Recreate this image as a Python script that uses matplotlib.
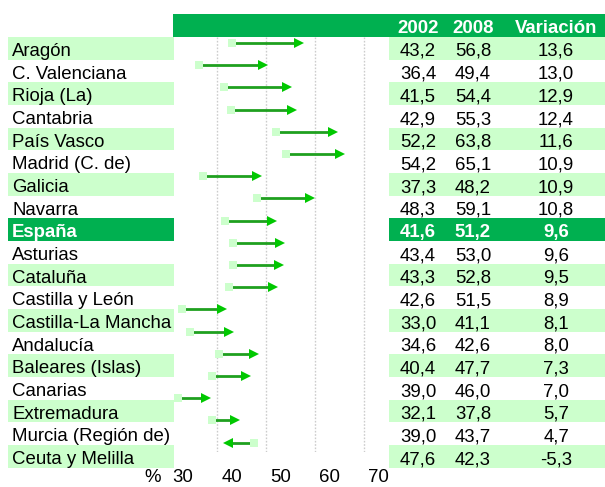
import matplotlib
matplotlib.use("Agg")
import matplotlib.pyplot as plt
from matplotlib.transforms import ScaledTranslation

plt.rcParams['font.family'] = ['Liberation Sans', 'DejaVu Sans']

regions = ["Aragón", "C. Valenciana", "Rioja (La)", "Cantabria", "País Vasco",
           "Madrid (C. de)", "Galicia", "Navarra", "España", "Asturias", "Cataluña",
           "Castilla y León", "Castilla-La Mancha", "Andalucía", "Baleares (Islas)",
           "Canarias", "Extremadura", "Murcia (Región de)", "Ceuta y Melilla"]
v2002 = [43.2, 36.4, 41.5, 42.9, 52.2, 54.2, 37.3, 48.3, 41.6, 43.4, 43.3,
         42.6, 33.0, 34.6, 40.4, 39.0, 32.1, 39.0, 47.6]
v2008 = [56.8, 49.4, 54.4, 55.3, 63.8, 65.1, 48.2, 59.1, 51.2, 53.0, 52.8,
         51.5, 41.1, 42.6, 47.7, 46.0, 37.8, 43.7, 42.3]
variacion = [13.6, 13.0, 12.9, 12.4, 11.6, 10.9, 10.9, 10.8, 9.6, 9.6, 9.5,
             8.9, 8.1, 8.0, 7.3, 7.0, 5.7, 4.7, -5.3]
headers = ["2002", "2008", "Variación"]
xticks = [30, 40, 50, 60, 70]
highlight = "España"

GREEN = "#00B050"
LIGHT = "#CCFFCC"
LINE = "#1FA01F"
HEAD = "#00C800"
FS = 13.4

W, H = 605, 487
fig = plt.figure(figsize=(W / 100, H / 100), dpi=100)

# table layer in pixel coordinates
axt = fig.add_axes([0, 0, 1, 1])
axt.set_xlim(0, W)
axt.set_ylim(H, 0)
axt.axis("off")

row_top0 = 37.0
row_h = 22.67
col_x = [418, 473, 556]

# header bar
axt.add_patch(plt.Rectangle((173, 14), W - 173, 22.5, color=GREEN, lw=0, zorder=1))
for cx, h in zip(col_x, headers):
    axt.text(cx, 14 + 19, h, ha="center", va="baseline", fontsize=FS,
             fontweight="bold", color="white", zorder=3)

def fmt(v):
    return f"{v:.1f}".replace(".", ",")

for i, name in enumerate(regions):
    top = row_top0 + i * row_h
    is_hl = name == highlight
    if is_hl:
        axt.add_patch(plt.Rectangle((8, top), 166, row_h, color=GREEN, lw=0, zorder=1))
        axt.add_patch(plt.Rectangle((389, top), W - 389, row_h, color=GREEN, lw=0, zorder=1))
    elif i % 2 == 0:
        axt.add_patch(plt.Rectangle((8, top), 166, row_h, color=LIGHT, lw=0, zorder=1))
        axt.add_patch(plt.Rectangle((389, top), W - 389, row_h, color=LIGHT, lw=0, zorder=1))
    color = "white" if is_hl else "black"
    weight = "bold" if is_hl else "normal"
    base = top + 19
    axt.text(12, base, name, ha="left", va="baseline", fontsize=FS,
             color=color, fontweight=weight, zorder=3)
    for cx, v in zip(col_x, [v2002[i], v2008[i], variacion[i]]):
        axt.text(cx, base, fmt(v), ha="center", va="baseline", fontsize=FS,
                 color=color, fontweight=weight, zorder=3)

# arrow layer
px_per_unit = 4.9
x0_px = 167.7
right_px = 389
y_top_px, y_bot_px = 37, 452
arrow_y0, arrow_dy = 43.0, 22.2
ax = fig.add_axes([x0_px / W, (H - y_bot_px) / H, (right_px - x0_px) / W,
                   (y_bot_px - y_top_px) / H])
ax.patch.set_alpha(0)
ax.set_xlim(30, 30 + (right_px - x0_px) / px_per_unit)
ax.set_ylim((y_bot_px - arrow_y0) / arrow_dy, (y_top_px - arrow_y0) / arrow_dy)
for s in ax.spines.values():
    s.set_visible(False)
ax.set_yticks([])
ax.set_xticks(xticks)
ax.set_xticklabels([str(t) for t in xticks])
ax.tick_params(axis="x", length=0, pad=12.5, labelsize=FS)
ax.xaxis.grid(True, color="#CCCCCC", linestyle=(0, (1.2, 1.2)), lw=1)
ax.get_xgridlines()[0].set_visible(False)
offset = ScaledTranslation(15 / 100, 0, fig.dpi_scale_trans)
for lab in ax.get_xticklabels():
    lab.set_transform(lab.get_transform() + offset)

for i in range(len(regions)):
    s, e = v2002[i], v2008[i]
    ax.plot([s, e], [i, i], color=LINE, lw=2, zorder=2, solid_capstyle="butt")
    ax.plot([s], [i], marker="s", ms=6, color=LIGHT, mew=0, zorder=3, linestyle="none")
    ax.plot([e], [i], marker=">" if e >= s else "<", ms=7.5, color=HEAD, mew=0,
            zorder=4, linestyle="none")

fig.text(153 / W, 1 - 478 / H, "%", ha="center", va="center", fontsize=FS)

fig.savefig("out.png", dpi=100)
